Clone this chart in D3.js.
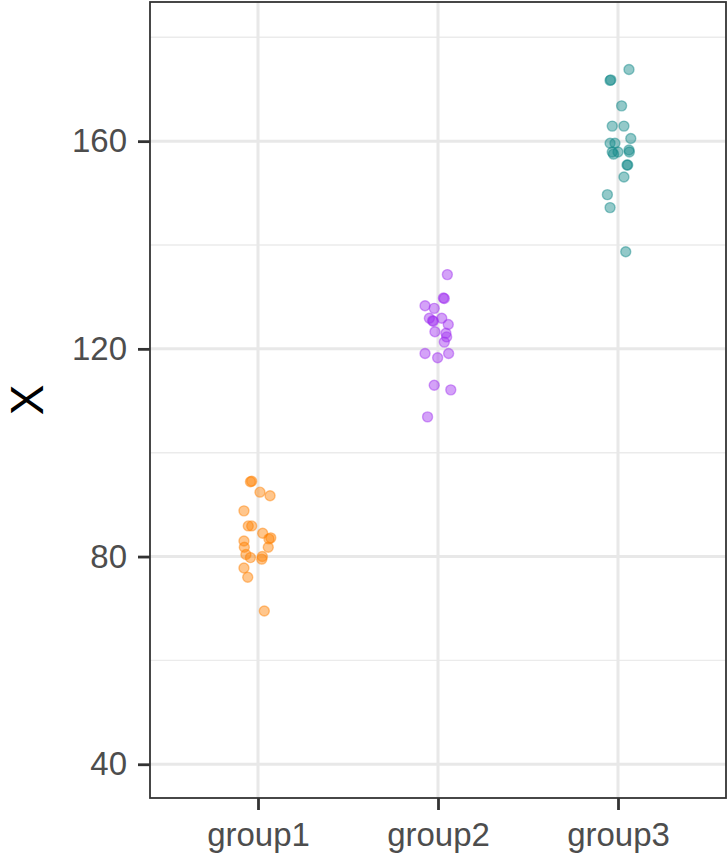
<!DOCTYPE html>
<html>
<head>
<meta charset="utf-8">
<script src="https://cdn.jsdelivr.net/npm/d3@7"></script>
<style>
  body { margin: 0; background: #fff; }
  svg { display: block; font-family: "Liberation Sans", Arial, sans-serif; }
</style>
</head>
<body>
<div class="container"></div>
<script>
const width = 727;
const height = 860;
const panel = { left: 150, right: 726, top: 2, bottom: 798 };

const groups = ['group1', 'group2', 'group3'];
const groupColors = ['#ff8000', '#a030f0', '#108888'];
const yTicks = [40, 80, 120, 160];
const yMinor = [60, 100, 140, 180];

// values, with the jitter offset (in category units)
const group1Values = [94.4, 94.5, 92.4, 91.7, 88.8, 85.9, 85.9, 84.5, 83.6, 83.4,
    83.0, 81.8, 81.8, 80.4, 79.8, 80.0, 79.5, 77.8, 76.0, 69.5];
const group1Jitter = [-0.042, -0.035, 0.011, 0.067, -0.078, -0.054, -0.035, 0.026, 0.071, 0.061,
    -0.078, 0.057, -0.076, -0.067, -0.042, 0.024, 0.021, -0.078, -0.057, 0.035];
const group2Values = [134.3, 129.7, 129.8, 128.3, 127.8, 125.9, 125.3, 125.9, 124.7, 123.3,
    123.0, 122.3, 121.3, 119.1, 118.3, 119.1, 113.0, 112.1, 106.9, 125.4];
const group2Jitter = [0.052, 0.035, 0.030, -0.072, -0.021, -0.048, -0.026, 0.021, 0.057, -0.017,
    0.044, 0.048, 0.035, -0.072, -0.002, 0.059, -0.021, 0.071, -0.058, -0.030];
const group3Values = [173.8, 171.7, 171.8, 166.8, 162.9, 162.9, 160.5, 159.6, 159.6, 157.9,
    157.9, 158.3, 157.9, 157.5, 155.4, 155.4, 153.1, 149.7, 147.2, 138.7];
const group3Jitter = [0.061, -0.044, -0.040, 0.020, -0.032, 0.033, 0.071, -0.044, -0.017, -0.032,
    0.000, 0.061, 0.063, -0.025, 0.050, 0.054, 0.033, -0.059, -0.044, 0.043];

const seriesValues = [group1Values, group2Values, group3Values];
const seriesJitter = [group1Jitter, group2Jitter, group3Jitter];

const points = [];
seriesValues.forEach((vals, g) => {
    vals.forEach((v, i) => {
        points.push({ group: g, value: v, jitter: seriesJitter[g][i] });
    });
});

const x = d3.scaleLinear().domain([0.4, 3.6]).range([panel.left, panel.right]);
const y = d3.scaleLinear().domain([33.5, 186.8]).range([panel.bottom, panel.top]);

const svg = d3.select('.container')
    .append('svg')
    .attr('width', width)
    .attr('height', height);

// grid
svg.append('g')
    .selectAll('line')
    .data(yMinor)
    .enter()
    .append('line')
    .attr('x1', panel.left).attr('x2', panel.right)
    .attr('y1', d => y(d)).attr('y2', d => y(d))
    .attr('stroke', '#ebebeb').attr('stroke-width', 1.4);

svg.append('g')
    .selectAll('line')
    .data(yTicks)
    .enter()
    .append('line')
    .attr('x1', panel.left).attr('x2', panel.right)
    .attr('y1', d => y(d)).attr('y2', d => y(d))
    .attr('stroke', '#e8e8e8').attr('stroke-width', 3);

svg.append('g')
    .selectAll('line')
    .data(groups)
    .enter()
    .append('line')
    .attr('x1', (d, i) => x(i + 1)).attr('x2', (d, i) => x(i + 1))
    .attr('y1', panel.top).attr('y2', panel.bottom)
    .attr('stroke', '#e8e8e8').attr('stroke-width', 3);

// points
svg.append('g')
    .selectAll('circle')
    .data(points)
    .enter()
    .append('circle')
    .attr('cx', d => x(d.group + 1 + d.jitter))
    .attr('cy', d => y(d.value))
    .attr('r', 5)
    .attr('fill', d => groupColors[d.group])
    .attr('fill-opacity', 0.45)
    .attr('stroke', d => groupColors[d.group])
    .attr('stroke-opacity', 0.45)
    .attr('stroke-width', 1.4);

// panel border
svg.append('rect')
    .attr('x', panel.left).attr('y', panel.top)
    .attr('width', panel.right - panel.left)
    .attr('height', panel.bottom - panel.top)
    .attr('fill', 'none')
    .attr('stroke', '#333333')
    .attr('stroke-width', 1.8);

// axes
const yAxis = svg.append('g')
    .attr('transform', `translate(${panel.left},0)`)
    .call(d3.axisLeft(y).tickValues(yTicks).tickSize(12).tickPadding(11));
const xAxis = svg.append('g')
    .attr('transform', `translate(0,${panel.bottom})`)
    .call(d3.axisBottom(x).tickValues([1, 2, 3]).tickFormat((d, i) => groups[i]).tickSize(12).tickPadding(13));

[yAxis, xAxis].forEach(ax => {
    ax.select('.domain').remove();
    ax.selectAll('.tick line').attr('stroke', '#333333').attr('stroke-width', 2.8);
    ax.selectAll('.tick text')
        .attr('fill', '#4d4d4d')
        .style('font-size', '33px')
        .style('font-family', '"Liberation Sans", Arial, sans-serif');
});

svg.append('text')
    .attr('transform', `translate(43,${(panel.top + panel.bottom) / 2}) rotate(-90)`)
    .attr('text-anchor', 'middle')
    .style('font-size', '46px')
    .attr('fill', '#000')
    .text('X');
</script>
</body>
</html>
